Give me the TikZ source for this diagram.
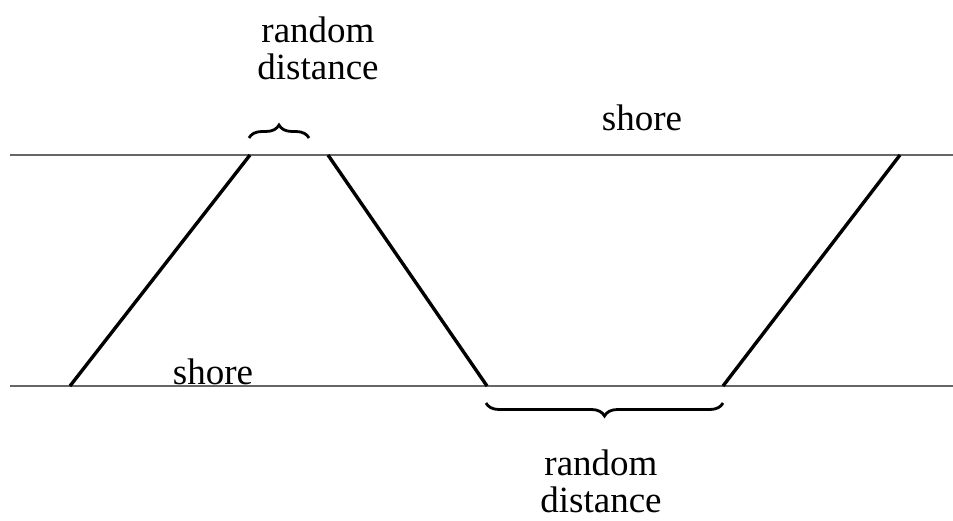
\documentclass[tikz,border=0pt]{standalone}
\usepackage{fontspec}
\setmainfont{Liberation Serif}
\usetikzlibrary{decorations.pathreplacing}
\begin{document}
\begin{tikzpicture}[x=1pt,y=-1pt,
  shoreline/.style={draw=black!60,line width=1.6pt},
  crossing/.style={draw=black,line width=3.4pt},
  bracebar/.style={draw=black,line width=2.8pt,decorate,decoration={brace,amplitude=13pt,aspect=0.5}},
  lbl/.style={font=\fontsize{37}{37}\selectfont,align=center,inner sep=0pt}]
\useasboundingbox (0,0) rectangle (953,521);
\coordinate (tl) at (10,155);
\coordinate (tr) at (953,155);
\coordinate (bl) at (10,386);
\coordinate (br) at (953,386);
\draw[shoreline] (tl) -- (tr);
\draw[shoreline] (bl) -- (br);
\coordinate (a1) at (70,386);
\coordinate (a2) at (250,155);
\coordinate (b1) at (328,155);
\coordinate (b2) at (487,386);
\coordinate (c1) at (723,386);
\coordinate (c2) at (900,155);
\draw[crossing] (a1) -- (a2);
\draw[crossing] (b1) -- (b2);
\draw[crossing] (c1) -- (c2);
\coordinate (tb1) at (249,138);
\coordinate (tb2) at (309,138);
\draw[bracebar] (tb1) -- (tb2);
\coordinate (bb1) at (723,403);
\coordinate (bb2) at (486,403);
\draw[bracebar] (bb1) -- (bb2);
\node[lbl] (rd1) at (318,48) {random\\distance};
\node[lbl] (s1) at (642,118) {shore};
\node[lbl] (s2) at (213,372) {shore};
\node[lbl] (rd2) at (601,481) {random\\distance};
\end{tikzpicture}
\end{document}
